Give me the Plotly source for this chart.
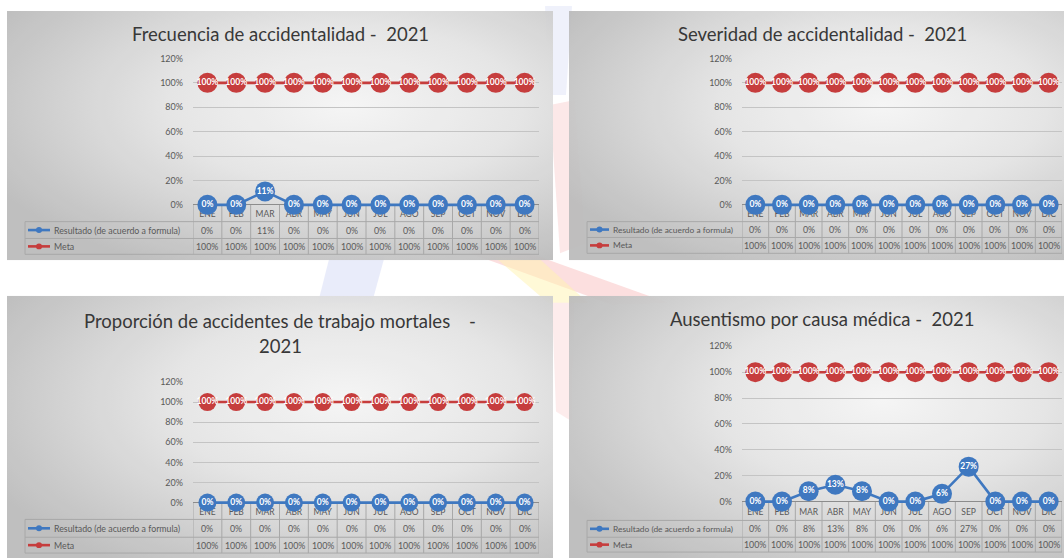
import base64
import plotly.graph_objects as go

# ---------------- data ----------------
MONTHS = ["ENE", "FEB", "MAR", "ABR", "MAY", "JUN", "JUL", "AGO", "SEP", "OCT", "NOV", "DIC"]
SERIES_NAMES = ["Resultado (de acuerdo a formula)", "Meta"]
Y_TICKS = [0, 0.2, 0.4, 0.6, 0.8, 1.0, 1.2]

FRECUENCIA_RESULTADO = [0, 0, 0.11, 0, 0, 0, 0, 0, 0, 0, 0, 0]
FRECUENCIA_META = [1.0, 1.0, 1.0, 1.0, 1.0, 1.0, 1.0, 1.0, 1.0, 1.0, 1.0, 1.0]

SEVERIDAD_RESULTADO = [0, 0, 0, 0, 0, 0, 0, 0, 0, 0, 0, 0]
SEVERIDAD_META = [1.0, 1.0, 1.0, 1.0, 1.0, 1.0, 1.0, 1.0, 1.0, 1.0, 1.0, 1.0]

MORTALES_RESULTADO = [0, 0, 0, 0, 0, 0, 0, 0, 0, 0, 0, 0]
MORTALES_META = [1.0, 1.0, 1.0, 1.0, 1.0, 1.0, 1.0, 1.0, 1.0, 1.0, 1.0, 1.0]

AUSENTISMO_RESULTADO = [0, 0, 0.08, 0.13, 0.08, 0, 0, 0.06, 0.27, 0, 0, 0]
AUSENTISMO_META = [1.0, 1.0, 1.0, 1.0, 1.0, 1.0, 1.0, 1.0, 1.0, 1.0, 1.0, 1.0]

TITLES = [
    ["Frecuencia de accidentalidad -\u00a0 2021"],
    ["Severidad de accidentalidad -\u00a0 2021"],
    ["Proporción de accidentes de trabajo mortales \u00a0\u00a0 -", "2021"],
    ["Ausentismo por causa médica -\u00a0 2021"],
]

# ---------------- style / geometry ----------------
W, H = 1064, 558
BLUE = "#3f78c0"
RED = "#c63d3d"
GREY_TXT = "#595959"
TITLE_TXT = "#383838"
LINE_GREY = "#a8a8a8"
FONT = "Lato"


def fx(x):
    return x / W


def fy(y):
    return 1 - y / H


def pct(v):
    return f"{round(v * 100)}%"


PANELS = [
    dict(title_y=[28], cx=280, bg=(7, 5, 553, 257), plot_x=(193, 539), y0=201, ytop=53,
         hdr=218, sep=235, bot=251, leg=25, key=(28, 50), txt=52, legsize=8.8, msize=20,
         res=FRECUENCIA_RESULTADO, meta=FRECUENCIA_META),
    dict(title_y=[28], cx=822, bg=(569, 5, 1075, 257), plot_x=(742, 1062), y0=201, ytop=53,
         hdr=218, sep=234, bot=250, leg=587, key=(590, 609), txt=611, legsize=8.4, msize=20,
         res=SEVERIDAD_RESULTADO, meta=SEVERIDAD_META),
    dict(title_y=[318, 344], cx=280, bg=(7, 293, 553, 570), plot_x=(193, 539), y0=502, ytop=380,
         hdr=519, sep=537, bot=553, leg=25, key=(28, 50), txt=52, legsize=8.8, msize=18,
         res=MORTALES_RESULTADO, meta=MORTALES_META),
    dict(title_y=[316], cx=822, bg=(569, 293, 1075, 570), plot_x=(742, 1062), y0=501, ytop=344,
         hdr=520, sep=537, bot=552, leg=587, key=(590, 609), txt=611, legsize=8.4, msize=20,
         res=AUSENTISMO_RESULTADO, meta=AUSENTISMO_META),
]


def svg_uri(svg):
    return "data:image/svg+xml;base64," + base64.b64encode(svg.encode("utf-8")).decode("ascii")


PANEL_SVG = (
    "<svg xmlns='http://www.w3.org/2000/svg' width='500' height='260' viewBox='0 0 500 260' "
    "preserveAspectRatio='none'><defs><radialGradient id='g' cx='0.62' cy='0.38' r='0.72'>"
    "<stop offset='0' stop-color='#f5f5f5'/><stop offset='0.45' stop-color='#e4e4e4'/>"
    "<stop offset='1' stop-color='#bcbcbc'/></radialGradient></defs>"
    "<rect x='0' y='0' width='500' height='260' fill='url(#g)'/></svg>"
)

WATERMARK_SVG = (
    f"<svg xmlns='http://www.w3.org/2000/svg' width='{W}' height='{H}' viewBox='0 0 {W} {H}'>"
    "<polygon points='330,252 385,252 372,300 318,300' fill='#c9cff2' opacity='0.4'/>"
    "<polygon points='545,0 572,0 566,90 550,90' fill='#c9cff2' opacity='0.3'/>"
    "<polygon points='550,100 575,95 585,240 560,250' fill='#f6b4b4' opacity='0.3'/>"
    "<polygon points='470,250 530,250 668,300 612,302' fill='#f8b0b0' opacity='0.4'/>"
    "<polygon points='495,254 540,256 588,300 548,300' fill='#fff4b0' opacity='0.5'/>"
    "<polygon points='552,300 574,300 572,420 556,410' fill='#f6b4b4' opacity='0.25'/>"
    "</svg>"
)

fig = go.Figure()
shapes = []
annotations = []
images = [dict(source=svg_uri(WATERMARK_SVG), xref="paper", yref="paper", x=0, y=1,
               sizex=1, sizey=1, xanchor="left", yanchor="top", sizing="stretch", layer="below")]
layout_axes = {}

for k, (p, title) in enumerate(zip(PANELS, TITLES), start=1):
    xa = "x" if k == 1 else f"x{k}"
    ya = "y" if k == 1 else f"y{k}"
    xkey = "xaxis" if k == 1 else f"xaxis{k}"
    ykey = "yaxis" if k == 1 else f"yaxis{k}"

    l, t, r, b = p["bg"]
    images.append(dict(source=svg_uri(PANEL_SVG), xref="paper", yref="paper", x=fx(l), y=fy(t),
                       sizex=(r - l) / W, sizey=(b - t) / H, xanchor="left", yanchor="top",
                       sizing="stretch", layer="below", opacity=0.95))

    # the y axis reaches down through the table header row, so month labels sit inside it
    units_per_px = 1.2 / (p["y0"] - p["ytop"])
    y_bottom = -(p["hdr"] - p["y0"]) * units_per_px
    hdr_y = -((p["y0"] + p["hdr"]) / 2 + 1.5 - p["y0"]) * units_per_px

    # month labels in the table header (drawn first so markers cover them)
    fig.add_trace(go.Scatter(x=MONTHS, y=[hdr_y] * len(MONTHS), mode="text", text=MONTHS,
                             textfont=dict(family=FONT, size=8.5, color=GREY_TXT),
                             cliponaxis=False, hoverinfo="skip", showlegend=False,
                             xaxis=xa, yaxis=ya))

    for vals, color in ((p["res"], BLUE), (p["meta"], RED)):
        fig.add_trace(go.Scatter(
            x=MONTHS, y=vals, mode="lines+markers+text",
            line=dict(color=color, width=2.6),
            marker=dict(size=p["msize"], color=color, line=dict(width=0)),
            text=[pct(v) for v in vals], textposition="middle center",
            textfont=dict(family=FONT, size=8.5, color="white", weight="bold"),
            cliponaxis=False, hoverinfo="skip", showlegend=False, xaxis=xa, yaxis=ya))

    layout_axes[xkey] = dict(domain=[fx(p["plot_x"][0]), min(1.0, fx(p["plot_x"][1]))],
                             type="category",
                             range=[-0.5, len(MONTHS) - 0.5], showticklabels=False, ticks="",
                             showgrid=False, zeroline=False, showline=False,
                             anchor=ya, layer="below traces", fixedrange=True)
    layout_axes[ykey] = dict(domain=[fy(p["hdr"]), fy(p["ytop"])], range=[y_bottom, 1.2],
                             tickvals=Y_TICKS, tickformat=".0%", showgrid=True,
                             gridcolor="#c4c4c4", gridwidth=1, zeroline=True,
                             zerolinecolor="#8c8c8c", zerolinewidth=1, showline=False,
                             ticks="", ticklabelstandoff=9,
                             tickfont=dict(family=FONT, size=9, color=GREY_TXT),
                             anchor=xa, layer="below traces", fixedrange=True)

    # titles
    for line_txt, ty in zip(title, p["title_y"]):
        annotations.append(dict(text=line_txt, x=fx(p["cx"]), y=fy(ty), xref="paper", yref="paper",
                                xanchor="center", yanchor="middle", showarrow=False,
                                font=dict(family=FONT, size=18.5, color=TITLE_TXT)))

    # data table grid
    for j in range(len(MONTHS) + 1):
        shapes.append(dict(type="line", xref=xa, yref="paper", x0=j - 0.5, x1=j - 0.5,
                           y0=fy(p["y0"]), y1=fy(p["bot"]), line=dict(color=LINE_GREY, width=1),
                           layer="below"))
    for yy in (p["hdr"], p["sep"], p["bot"]):
        shapes.append(dict(type="line", xref="paper", yref="paper", x0=fx(p["leg"]),
                           x1=fx(p["plot_x"][1]), y0=fy(yy), y1=fy(yy),
                           line=dict(color=LINE_GREY, width=1), layer="below"))
    shapes.append(dict(type="line", xref="paper", yref="paper", x0=fx(p["leg"]), x1=fx(p["leg"]),
                       y0=fy(p["hdr"]), y1=fy(p["bot"]), line=dict(color=LINE_GREY, width=1),
                       layer="below"))

    rows = [((p["hdr"] + p["sep"]) / 2, p["res"], BLUE, SERIES_NAMES[0]),
            ((p["sep"] + p["bot"]) / 2, p["meta"], RED, SERIES_NAMES[1])]
    k0, k1 = p["key"]
    for ry, vals, color, name in rows:
        # legend key
        shapes.append(dict(type="line", xref="paper", yref="paper", x0=fx(k0), x1=fx(k1),
                           y0=fy(ry), y1=fy(ry), line=dict(color=color, width=2.6), layer="above"))
        kc = (k0 + k1) / 2
        shapes.append(dict(type="circle", xref="paper", yref="paper", x0=fx(kc - 3),
                           x1=fx(kc + 3), y0=fy(ry + 3), y1=fy(ry - 3),
                           fillcolor=color, line=dict(width=0), layer="above"))
        annotations.append(dict(text=name, x=fx(p["txt"]), y=fy(ry), xref="paper",
                                yref="paper", xanchor="left", yanchor="middle", showarrow=False,
                                font=dict(family=FONT, size=p["legsize"], color=GREY_TXT)))
        for m, v in zip(MONTHS, vals):
            annotations.append(dict(text=pct(v), x=m, y=fy(ry), xref=xa, yref="paper",
                                    xanchor="center", yanchor="middle", showarrow=False,
                                    font=dict(family=FONT, size=8.8, color=GREY_TXT)))

fig.update_layout(
    width=W, height=H, autosize=False,
    margin=dict(l=0, r=0, t=0, b=0),
    paper_bgcolor="white", plot_bgcolor="rgba(0,0,0,0)",
    showlegend=False, shapes=shapes, annotations=annotations, images=images,
    font=dict(family=FONT, color=GREY_TXT),
    **layout_axes,
)

fig.write_html("out.html", config={"displayModeBar": False},
               post_script="document.body.style.margin='0px';document.body.style.overflow='hidden';")
